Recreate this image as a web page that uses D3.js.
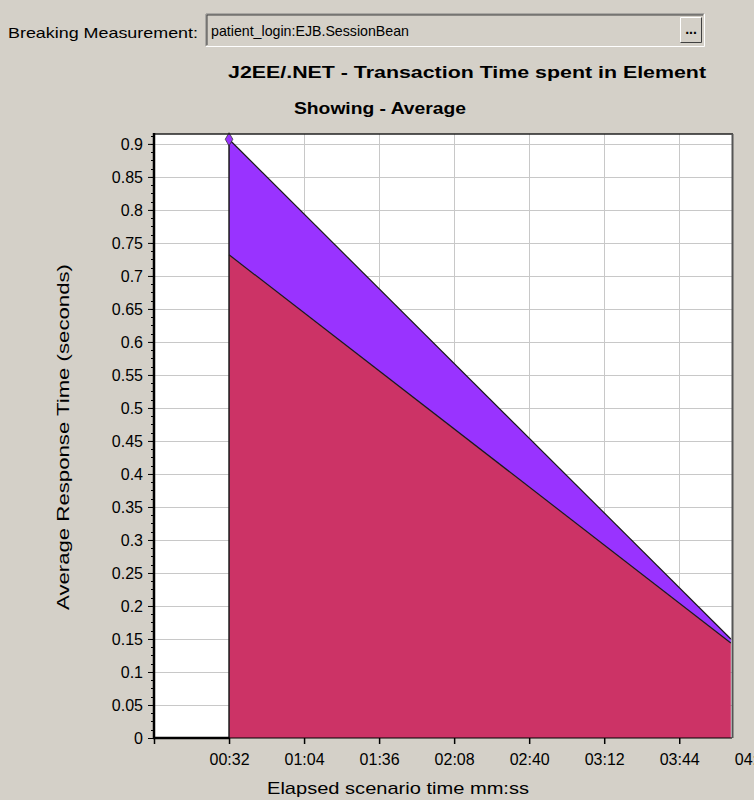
<!DOCTYPE html>
<html>
<head>
<meta charset="utf-8">
<script src="https://cdn.jsdelivr.net/npm/d3@7/dist/d3.min.js"></script>
<style>
  html, body { margin: 0; padding: 0; background: #D4D0C8; }
  svg { display: block; }
</style>
</head>
<body>
<svg id="chart" width="754" height="800"></svg>
<script>
// ---- data ----
const times = [32, 246];                 // elapsed seconds
const lowerSeries = [0.732, 0.144];      // crimson layer
const upperSeries = [0.175, 0.006];      // purple layer (stacked on top)
const seriesNames = ["lower", "upper"];
const seriesColors = ["#CC3366", "#9933FF"];
const yTickValues = [0, 0.05, 0.1, 0.15, 0.2, 0.25, 0.3, 0.35, 0.4, 0.45, 0.5, 0.55, 0.6, 0.65, 0.7, 0.75, 0.8, 0.85, 0.9];
const xTickValues = [0, 32, 64, 96, 128, 160, 192, 224, 256];
const xTickLabels = ["", "00:32", "01:04", "01:36", "02:08", "02:40", "03:12", "03:44", "04:16"];

const svg = d3.select("#chart");
const font = "'Liberation Sans', Arial, sans-serif";

// ---- header ----
svg.append("rect").attr("x", 0).attr("y", 0).attr("width", 754).attr("height", 800).attr("fill", "#D4D0C8");
svg.append("text").attr("x", 8).attr("y", 38).attr("font-family", font).attr("font-size", 15)
  .attr("textLength", 190).attr("lengthAdjust", "spacingAndGlyphs").attr("fill", "#000")
  .text("Breaking Measurement:");
// input box (sunken)
svg.append("rect").attr("x", 206).attr("y", 14).attr("width", 498).attr("height", 32).attr("fill", "#D4D0C8");
svg.append("path").attr("d", "M206,46 V14 H704").attr("fill", "none").attr("stroke", "#808080").attr("stroke-width", 1);
svg.append("path").attr("d", "M207,45 V15 H703").attr("fill", "none").attr("stroke", "#404040").attr("stroke-width", 1);
svg.append("path").attr("d", "M206,46.5 H704.5 V14").attr("fill", "none").attr("stroke", "#FFFFFF").attr("stroke-width", 1);
svg.append("text").attr("x", 211).attr("y", 36).attr("font-family", font).attr("font-size", 15)
  .attr("textLength", 198).attr("lengthAdjust", "spacingAndGlyphs").attr("fill", "#000")
  .text("patient_login:EJB.SessionBean");
// "..." button
svg.append("rect").attr("x", 680).attr("y", 17).attr("width", 22).attr("height", 26).attr("fill", "#D4D0C8");
svg.append("path").attr("d", "M680.5,42.5 V17.5 H701.5").attr("fill", "none").attr("stroke", "#FFFFFF");
svg.append("path").attr("d", "M680.5,42.5 H701.5 V17.5").attr("fill", "none").attr("stroke", "#404040");
svg.append("text").attr("x", 691).attr("y", 34).attr("text-anchor", "middle").attr("font-family", font)
  .attr("font-size", 14).attr("font-weight", "bold").attr("fill", "#000").text("...");

// titles
svg.append("text").attr("x", 467).attr("y", 78).attr("text-anchor", "middle").attr("font-family", font)
  .attr("font-size", 17).attr("font-weight", "bold").attr("textLength", 478).attr("lengthAdjust", "spacingAndGlyphs")
  .attr("fill", "#000").text("J2EE/.NET - Transaction Time spent in Element");
svg.append("text").attr("x", 380).attr("y", 114).attr("text-anchor", "middle").attr("font-family", font)
  .attr("font-size", 17).attr("font-weight", "bold").attr("textLength", 172).attr("lengthAdjust", "spacingAndGlyphs")
  .attr("fill", "#000").text("Showing - Average");

// ---- scales ----
const x = d3.scaleLinear().domain([0, 246.5]).range([154, 732]);
const y = d3.scaleLinear().domain([0, 0.915]).range([738, 134]);

// plot background
svg.append("rect").attr("x", x(0)).attr("y", y(0.915)).attr("width", x(246.5) - x(0)).attr("height", y(0) - y(0.915))
  .attr("fill", "#FFFFFF");

// gridlines
const grid = svg.append("g").attr("stroke", "#C8C8C8").attr("stroke-width", 1);
yTickValues.filter(v => v > 0).forEach(v => {
  grid.append("line").attr("x1", x(0)).attr("x2", x(246.5)).attr("y1", Math.round(y(v)) + 0.5).attr("y2", Math.round(y(v)) + 0.5);
});
xTickValues.filter(v => v > 0 && v < 246.5).forEach(v => {
  grid.append("line").attr("x1", Math.round(x(v)) + 0.5).attr("x2", Math.round(x(v)) + 0.5).attr("y1", y(0.915)).attr("y2", y(0));
});

// ---- stacked areas ----
const table = times.map((t, i) => ({ t: t, lower: lowerSeries[i], upper: upperSeries[i] }));
const stacked = d3.stack().keys(seriesNames)(table);
const area = d3.area().x(d => x(d.data.t)).y0(d => y(d[0])).y1(d => y(d[1]));
svg.append("g").selectAll("path").data(stacked).join("path")
  .attr("d", area).attr("fill", (d, i) => seriesColors[i]).attr("stroke", "none");
const line = d3.line().x(d => x(d.data.t)).y(d => y(d[1]));
svg.append("g").selectAll("path").data(stacked).join("path")
  .attr("d", line).attr("fill", "none").attr("stroke", "#1a1a1a").attr("stroke-width", 1.2);
// left vertical edge of the area
svg.append("line").attr("x1", x(times[0])).attr("x2", x(times[0]))
  .attr("y1", y(0)).attr("y2", y(stacked[1][0][1])).attr("stroke", "#1a1a1a").attr("stroke-width", 1.5);

// marker at first point of the top series
const top0 = stacked[1][0];
svg.append("path").attr("d", d3.symbol().type(d3.symbolDiamond).size(50)())
  .attr("transform", `translate(${x(top0.data.t)},${y(top0[1])})`)
  .attr("fill", "#9933FF").attr("stroke", "#333").attr("stroke-width", 0.8);

// plot frame: top and right borders
svg.append("line").attr("x1", x(0)).attr("x2", x(246.5) + 1).attr("y1", y(0.915)).attr("y2", y(0.915))
  .attr("stroke", "#222").attr("stroke-width", 1.5);
svg.append("line").attr("x1", x(246.5) + 0.5).attr("x2", x(246.5) + 0.5).attr("y1", y(0.915)).attr("y2", y(0))
  .attr("stroke", "#555").attr("stroke-width", 2);

// ---- axes ----
const yAxis = d3.axisLeft(y).tickValues(yTickValues).tickSize(6).tickPadding(5)
  .tickFormat(d => d3.format("~g")(d));
const gy = svg.append("g").attr("transform", `translate(${x(0)},0)`).call(yAxis);
gy.select(".domain").remove();
gy.selectAll(".tick line").attr("stroke", "#000").attr("stroke-width", 1);
gy.selectAll("text").attr("font-family", font).attr("font-size", 16).attr("fill", "#000");
// minor ticks
const minor = d3.range(0, 0.915, 0.0125);
svg.append("g").selectAll("line").data(minor).join("line")
  .attr("x1", x(0) - 3).attr("x2", x(0)).attr("y1", d => Math.round(y(d)) + 0.5).attr("y2", d => Math.round(y(d)) + 0.5)
  .attr("stroke", "#000");
svg.append("line").attr("x1", x(0)).attr("x2", x(0)).attr("y1", y(0.915) - 1).attr("y2", y(0) + 1)
  .attr("stroke", "#000").attr("stroke-width", 2.5);

const xAxis = d3.axisBottom(x).tickValues(xTickValues).tickSize(6).tickPadding(10)
  .tickFormat((d, i) => xTickLabels[i]);
const gx = svg.append("g").attr("transform", `translate(0,${y(0)})`).call(xAxis);
gx.select(".domain").remove();
gx.selectAll(".tick line").attr("stroke", "#000").attr("stroke-width", 1.5);
gx.selectAll("text").attr("font-family", font).attr("font-size", 16).attr("fill", "#000");
svg.append("line").attr("x1", x(0) - 1).attr("x2", x(246.5)).attr("y1", y(0)).attr("y2", y(0))
  .attr("stroke", "#000").attr("stroke-width", 1);
svg.append("line").attr("x1", x(0) - 1).attr("x2", x(times[0])).attr("y1", y(0)).attr("y2", y(0))
  .attr("stroke", "#000").attr("stroke-width", 2.5);

// axis titles
svg.append("text").attr("x", 398).attr("y", 794).attr("text-anchor", "middle").attr("font-family", font)
  .attr("font-size", 17).attr("textLength", 262).attr("lengthAdjust", "spacingAndGlyphs").attr("fill", "#000")
  .text("Elapsed scenario time mm:ss");
svg.append("text").attr("transform", "translate(69,437) rotate(-90)").attr("text-anchor", "middle")
  .attr("font-family", font).attr("font-size", 17).attr("textLength", 346).attr("lengthAdjust", "spacingAndGlyphs")
  .attr("fill", "#000").text("Average Response Time (seconds)");
</script>
</body>
</html>
